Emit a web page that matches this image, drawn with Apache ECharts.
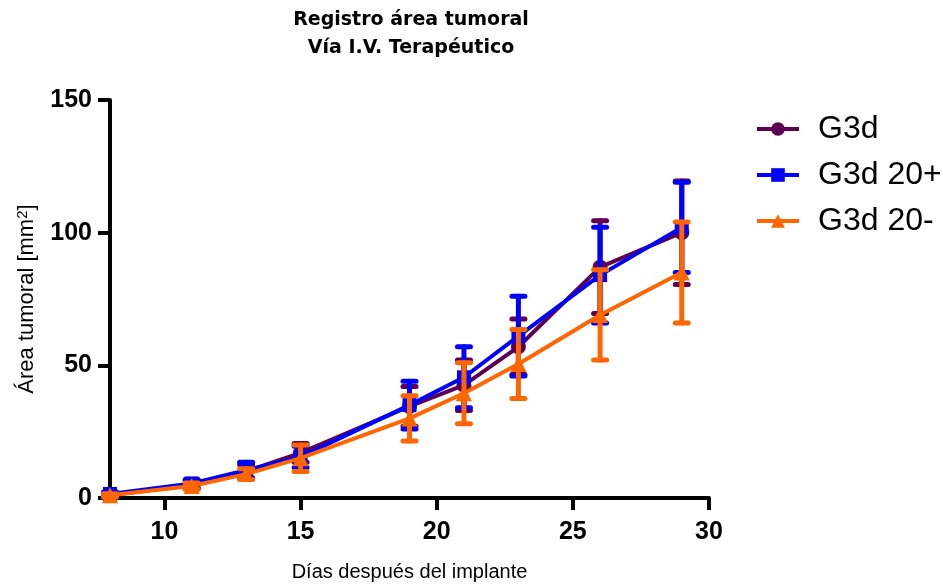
<!DOCTYPE html>
<html>
<head>
<meta charset="utf-8">
<script src="https://cdn.jsdelivr.net/npm/echarts@6/dist/echarts.min.js"></script>
<style>
  html, body { margin: 0; padding: 0; background: #fff; }
  #chart { width: 943px; height: 584px; }
</style>
</head>
<body>
<div id="chart"></div>
<script>
// días después del implante
const dias = [8, 11, 13, 15, 19, 21, 23, 26, 29]

// medias y error (SEM) por grupo
const g3d = [1, 5, 10, 17, 34.5, 42.5, 57, 87, 100]
const g3dErr = [0.8, 1.5, 2.5, 3.5, 7.5, 9.5, 10.5, 17.5, 19.5]
const g3d20p = [1.5, 5.5, 10.5, 15.5, 35, 45.5, 61, 84, 102]
const g3d20pErr = [0.8, 1.5, 3, 4, 9, 11.5, 15, 18, 17]
const g3d20m = [1, 4.5, 9, 15, 30, 39.5, 50.5, 69, 85]
const g3d20mErr = [0.6, 1.2, 2, 5, 8.5, 11.5, 13, 17, 19]

const xTicks = [10, 15, 20, 25, 30]

const grupos = [
  { name: 'G3d', data: g3d, err: g3dErr, color: '#5e0052', symbol: 'circle', size: 15 },
  { name: 'G3d 20+', data: g3d20p, err: g3d20pErr, color: '#0000ff', symbol: 'rect', size: 14 },
  { name: 'G3d 20-', data: g3d20m, err: g3d20mErr, color: '#ff6600', symbol: 'triangle', size: 16 },
]

const errorBar = (color) => (params, api) => {
  const x = api.value(0)
  const top = api.coord([x, api.value(2)])
  const bot = api.coord([x, api.value(1)])
  const w = 6.5
  const style = { stroke: color, lineWidth: 5, fill: null, lineCap: 'round' }
  return {
    type: 'group',
    children: [
      { type: 'line', shape: { x1: top[0], y1: top[1], x2: bot[0], y2: bot[1] }, style },
      { type: 'line', shape: { x1: top[0] - w, y1: top[1], x2: top[0] + w, y2: top[1] }, style },
      { type: 'line', shape: { x1: bot[0] - w, y1: bot[1], x2: bot[0] + w, y2: bot[1] }, style },
    ]
  }
}

const series = []
grupos.forEach((g, i) => {
  series.push({
    name: g.name + ' err',
    type: 'custom',
    z: 2 + i * 2,
    silent: true,
    clip: false,
    renderItem: errorBar(g.color),
    encode: { x: 0, y: [1, 2] },
    data: dias.map((d, k) => [d, g.data[k] - g.err[k], g.data[k] + g.err[k]])
  })
  series.push({
    name: g.name,
    type: 'line',
    z: 3 + i * 2,
    symbol: g.symbol,
    symbolSize: g.size,
    showAllSymbol: true,
    clip: false,
    itemStyle: { color: g.color },
    lineStyle: { color: g.color, width: 4 },
    data: dias.map((d, k) => [d, g.data[k]])
  })
})

const font = 'Liberation Sans, Arial, sans-serif'

const option = {
  backgroundColor: '#fff',
  animation: false,
  title: {
    text: 'Registro área tumoral\nVía I.V. Terapéutico',
    left: 406,
    textAlign: 'center',
    top: 1,
    textStyle: { color: '#000', fontFamily: 'DejaVu Sans', fontSize: 19, fontWeight: 'bold', lineHeight: 28 }
  },
  legend: {
    data: grupos.map(g => g.name),
    orient: 'vertical',
    left: 750,
    top: 108,
    itemWidth: 42,
    itemHeight: 17,
    itemGap: 14,
    lineStyle: { width: 4 },
    textStyle: { color: '#000', fontFamily: font, fontSize: 32, padding: [0, 0, 0, 14] }
  },
  grid: { left: 110, right: 234, top: 100, bottom: 86, outerBoundsMode: 'none' },
  xAxis: {
    type: 'value',
    min: 8,
    max: 30,
    name: 'Días después del implante',
    nameLocation: 'middle',
    nameGap: 64,
    nameTextStyle: { color: '#000', fontFamily: font, fontSize: 20 },
    splitLine: { show: false },
    axisLine: { onZero: false, lineStyle: { color: '#000', width: 4 } },
    axisTick: { customValues: xTicks, length: 12, lineStyle: { color: '#000', width: 4 } },
    axisLabel: { customValues: xTicks, color: '#000', fontFamily: font, fontSize: 25, fontWeight: 'bold', margin: 22 }
  },
  yAxis: {
    type: 'value',
    min: 0,
    max: 150,
    interval: 50,
    name: '{a|Área tumoral [mm}{s|2}{a|]}',
    nameLocation: 'middle',
    nameGap: 72,
    nameTextStyle: {
      rich: {
        a: { color: '#000', fontFamily: font, fontSize: 22 },
        s: { color: '#000', fontFamily: font, fontSize: 15, verticalAlign: 'top', padding: [0, 0, 8, 0] }
      }
    },
    splitLine: { show: false },
    axisLine: { show: true, lineStyle: { color: '#000', width: 4 } },
    axisTick: { show: true, length: 12, lineStyle: { color: '#000', width: 4 } },
    axisLabel: { color: '#000', fontFamily: font, fontSize: 25, fontWeight: 'bold', margin: 18 }
  },
  series
}

const chart = echarts.init(document.getElementById('chart'))
chart.setOption(option)
</script>
</body>
</html>
